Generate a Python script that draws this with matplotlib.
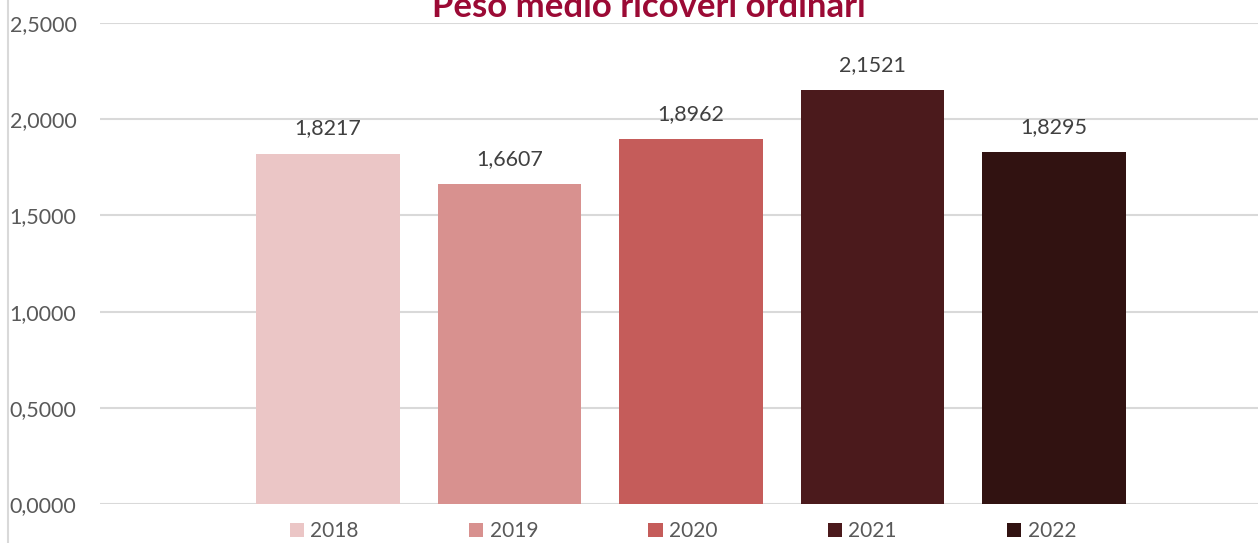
import matplotlib.pyplot as plt
from matplotlib.lines import Line2D
from matplotlib.patches import Patch

# dati
anni = ['2018', '2019', '2020', '2021', '2022']
peso_medio = [1.8217, 1.6607, 1.8962, 2.1521, 1.8295]
colori = ['#EBC6C6', '#D8918F', '#C55C5A', '#4B1A1C', '#311211']
y_ticks = [0.0, 0.5, 1.0, 1.5, 2.0, 2.5]

plt.rcParams['font.family'] = ['Lato', 'DejaVu Sans']

fig = plt.figure(figsize=(12.58, 5.43), dpi=100)
ax = fig.add_axes([100/1258, 1-504/543, 1182/1258, 481/543])

x = list(range(len(anni)))
bars = ax.bar(x, peso_medio, width=0.793, color=colori, zorder=3)

for xi, v in zip(x, peso_medio):
    lab = f'{v:.4f}'.replace('.', ',')
    ax.annotate(lab, (xi, v), xytext=(0, 11), textcoords='offset points',
                ha='center', va='bottom', fontsize=15.5, color='#404040')

ax.set_xlim(-1.256, 5.256)
ax.set_ylim(0, 2.5)
ax.set_yticks(y_ticks)
ax.set_yticklabels([f'{t:.4f}'.replace('.', ',') for t in y_ticks])
ax.tick_params(axis='y', length=0, pad=17, labelsize=15.5, labelcolor='#595959')
ax.set_xticks([])
ax.grid(axis='y', color='#D9D9D9', linewidth=1.5, zorder=0)
for s in ax.spines.values():
    s.set_visible(False)

fig.text(0.516, 1-17/543, 'Peso medio ricoveri ordinari', ha='center', va='baseline',
         fontsize=25, fontweight='bold', color='#9B0A35')

# bordo sinistro
fig.add_artist(Line2D([8/1258, 8/1258], [0, 1], color='#D9D9D9', linewidth=1.5))

handles = [Patch(facecolor=c, edgecolor='none') for c in colori]
fig.legend(handles, anni, loc='center', bbox_to_anchor=(683/1258, 1-531/543), ncol=5,
           frameon=False, fontsize=15, labelcolor='#595959', handlelength=0.68,
           handleheight=0.68, handletextpad=0.3, columnspacing=5.3, borderpad=0)

fig.savefig('out.png', dpi=100)
